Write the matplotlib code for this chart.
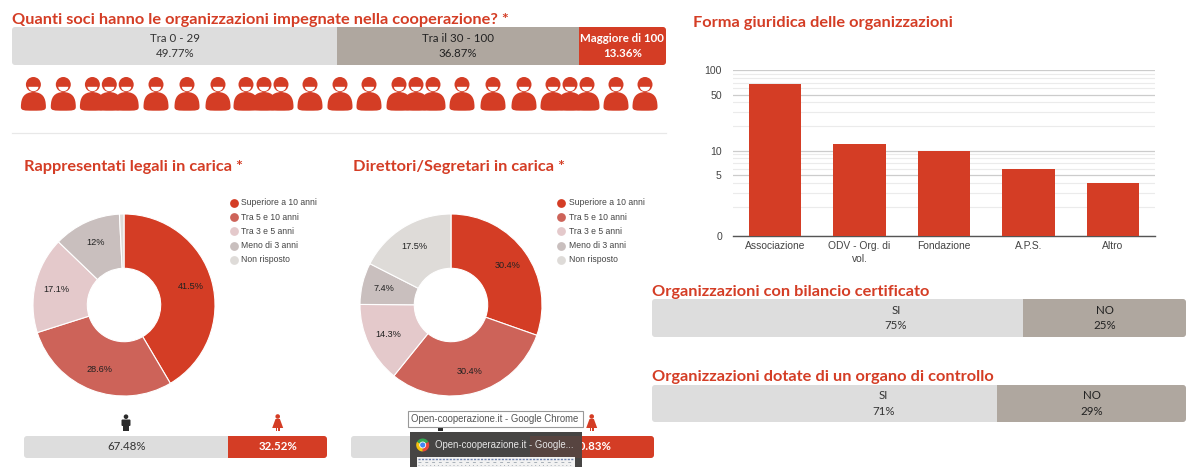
import numpy as np
import matplotlib
matplotlib.use('Agg')
import matplotlib.pyplot as plt
from matplotlib.patches import Rectangle, FancyBboxPatch, PathPatch, Polygon, Circle, Wedge
from matplotlib.path import Path
from matplotlib.transforms import Affine2D

W, H = 1200, 467

# data
soci_labels = ['Tra 0 - 29', 'Tra il 30 - 100', 'Maggiore di 100']
soci_values = [49.77, 36.87, 13.36]
bilancio_labels = ['SI', 'NO']
bilancio_values = [75, 25]
bilancio_drawn = [69.5, 30.5]  # segment widths in the picture differ from the printed percentages
controllo_labels = ['SI', 'NO']
controllo_values = [71, 29]
controllo_drawn = [64.6, 35.4]
legali_gender = [67.48, 32.52]
direttori_gender = [59.17, 40.83]
durata_labels = ['Superiore a 10 anni', 'Tra 5 e 10 anni', 'Tra 3 e 5 anni', 'Meno di 3 anni', 'Non risposto']
legali_values = [41.5, 28.6, 17.1, 12, 0.8]
direttori_values = [30.4, 30.4, 14.3, 7.4, 17.5]
forma_labels = ['Associazione', 'ODV - Org. di\nvol.', 'Fondazione', 'A.P.S.', 'Altro']
forma_values = [67, 12, 10, 6, 4]
forma_ticks = [0, 5, 10, 50, 100]
forma_minor = [2, 3, 4, 6, 7, 8, 9, 20, 30, 40, 60, 70, 80, 90]

RED = '#d43d25'
LIGHT = '#dddddd'
TAUPE = '#afa79f'
PIE_COLORS = [RED, '#cd6359', '#e4c9cb', '#c9bfbe', '#dedbd8']
TITLE = dict(family='Lato', weight='bold', color=RED, fontsize=11.8, va='center')
BAR_FONT = dict(family='Lato', ha='center', va='center', fontsize=8.3)
ARIAL = 'Liberation Sans'

fig = plt.figure(figsize=(W / 100, H / 100), dpi=100, facecolor='white')


def px_axes(x0, y0, x1, y1, **kw):
    # axes placed by pixel box, y measured from the top of the image
    return fig.add_axes([x0 / W, 1 - y1 / H, (x1 - x0) / W, (y1 - y0) / H], **kw)


def stacked_bar(x0, y0, x1, y1, values, colors, texts, text_colors, weights, text_x=None):
    ax = px_axes(x0, y0, x1, y1)
    ax.set_xlim(0, sum(values))
    ax.set_ylim(0, 1)
    ax.axis('off')
    # rounded corners for the whole bar
    box_tr = Affine2D().scale(1 / (x1 - x0), 1 / (y1 - y0)) + ax.transAxes
    clip = FancyBboxPatch((0, 0), x1 - x0, y1 - y0, boxstyle='round,pad=0,rounding_size=3', transform=box_tr)
    left = 0
    for i, (v, c, t, tc, w) in enumerate(zip(values, colors, texts, text_colors, weights)):
        bar = ax.barh(0.5, v, height=1, left=left, color=c, linewidth=0)[0]
        bar.set_clip_path(clip)
        tx = left + v / 2
        if text_x and text_x[i] is not None:
            tx = text_x[i]
        if t:
            ax.text(tx, 0.5, t, color=tc, weight=w, linespacing=1.45, clip_on=False, **BAR_FONT)
        left += v
    return ax


def donut(cx, cy, values):
    r = 91
    ax = px_axes(cx - r - 1, cy - r - 1, cx + r + 1, cy + r + 1)
    ax.pie(values, colors=PIE_COLORS, startangle=90, counterclock=False, radius=1,
           autopct=lambda p: '' if p < 1 else f'{round(p, 1):g}%', pctdistance=0.76,
           wedgeprops=dict(width=1 - 36.7 / 91, edgecolor='white', linewidth=0.8),
           textprops=dict(family=ARIAL, fontsize=6.6, color='#222222'))
    ax.set_xlim(-92 / 91, 92 / 91)
    ax.set_ylim(-92 / 91, 92 / 91)
    ax.set_aspect('equal')


# stacked bars
stacked_bar(12, 27, 666, 65, soci_values, [LIGHT, TAUPE, RED],
            [f'{l}\n{v:.2f}%' for l, v in zip(soci_labels, soci_values)],
            ['#333333', '#222222', 'white'], ['normal', 'normal', 'bold'])
stacked_bar(652, 299, 1186, 337, bilancio_drawn, [LIGHT, TAUPE],
            [f'{l}\n{v}%' for l, v in zip(bilancio_labels, bilancio_values)],
            ['#333333', '#222222'], ['normal', 'normal'], text_x=[45.7, None])
stacked_bar(652, 385, 1186, 422, controllo_drawn, [LIGHT, TAUPE],
            [f'{l}\n{v}%' for l, v in zip(controllo_labels, controllo_values)],
            ['#333333', '#222222'], ['normal', 'normal'], text_x=[43.4, None])
stacked_bar(24, 436, 327, 458, legali_gender, [LIGHT, RED],
            [f'{v:.2f}%' for v in legali_gender], ['#333333', 'white'], ['normal', 'bold'])
# the grey label of this bar sits fully behind the browser popup
stacked_bar(351, 436, 654, 458, direttori_gender, [LIGHT, RED],
            ['', f'{direttori_gender[1]:.2f}%'], ['#333333', 'white'], ['normal', 'bold'])

# donuts
donut(124, 305, legali_values)
donut(451, 305, direttori_values)

# log bar chart
ax = px_axes(733, 70.3, 1155, 235.7)
ax.set_yscale('symlog', linthresh=1, linscale=0.0515)
pos = np.arange(len(forma_values))
ax.bar(pos, forma_values, width=0.62, color=RED, zorder=3)
ax.set_xlim(-0.5, len(forma_values) - 0.5)
ax.set_ylim(0, 100)
ax.set_yticks(forma_ticks)
ax.set_yticklabels([str(t) for t in forma_ticks], family=ARIAL, fontsize=7.6, color='#444444')
ax.set_yticks(forma_minor, minor=True)
ax.set_yticklabels([], minor=True)
ax.set_xticks(pos)
ax.set_xticklabels(forma_labels, family=ARIAL, fontsize=7.4, color='#444444', linespacing=1.3)
ax.tick_params(axis='both', which='both', length=0)
ax.tick_params(axis='y', pad=8)
ax.tick_params(axis='x', pad=4)
ax.grid(True, axis='y', which='major', color='#cccccc', linewidth=0.9, zorder=0)
ax.grid(True, axis='y', which='minor', color='#ebebeb', linewidth=0.8, zorder=0)
ax.patch.set_alpha(0)
for name, sp in ax.spines.items():
    sp.set_visible(name == 'bottom')
ax.spines['bottom'].set_color('#555555')
ax.spines['bottom'].set_linewidth(1)

# overlay in image pixels for titles, icons and the browser popup
ov = fig.add_axes([0, 0, 1, 1], zorder=10)
ov.set_xlim(0, W)
ov.set_ylim(H, 0)
ov.axis('off')

ov.text(12, 20, 'Quanti soci hanno le organizzazioni impegnate nella cooperazione? *', **TITLE)
ov.text(693, 23.5, 'Forma giuridica delle organizzazioni', **TITLE)
ov.text(24, 167.5, 'Rappresentati legali in carica *', **TITLE)
ov.text(353, 167.5, 'Direttori/Segretari in carica *', **TITLE)
ov.text(652, 292, 'Organizzazioni con bilancio certificato', **TITLE)
ov.text(652, 376.5, 'Organizzazioni dotate di un organo di controllo', **TITLE)

ov.plot([12, 666], [133, 133], color='#e8e8e8', lw=0.9)

# legends
for x_dot, x_txt in [(233.5, 241), (560.7, 568.7)]:
    for i, lab in enumerate(durata_labels):
        y = 202.7 + i * 14.3
        ov.scatter([x_dot], [y], s=40, color=PIE_COLORS[i], linewidths=0)
        ov.text(x_txt, y, lab, family=ARIAL, fontsize=6.2, color='#444444', va='center')

# people icons
icon_x = [33.4, 63.3, 92.4, 109.3, 126.2, 156, 187, 218, 246, 264, 281, 310, 340, 369,
          399, 416, 433, 462, 493, 524, 553, 570, 587, 616, 645]


def person(c):
    ov.add_patch(Circle((c, 84.5), 7.5, color=RED, lw=0, zorder=3))
    verts = [(c - 12.5, 107), (c - 12.5, 97), (c - 9, 92.5), (c, 92), (c + 9, 92.5), (c + 12.5, 97), (c + 12.5, 107),
             (c + 12.5, 110.7), (c + 9, 110.7), (c, 110.7), (c - 9, 110.7), (c - 12.5, 110.7), (c - 12.5, 107)]
    codes = [Path.MOVETO] + [Path.CURVE4] * 12
    ov.add_patch(PathPatch(Path(verts, codes), color=RED, lw=0, zorder=3))
    t = np.linspace(0, np.pi, 20)
    ov.add_patch(Polygon(np.c_[c + 5 * np.cos(t), 86.8 + 4.4 * np.sin(t)], color='white', lw=0, zorder=4))


for c in icon_x:
    person(c)


def man(c, col):
    ov.add_patch(Circle((c, 416.7), 2.3, color=col, lw=0))
    ov.add_patch(FancyBboxPatch((c - 4.5, 419.5), 9, 6.5, boxstyle='round,pad=0,rounding_size=1', color=col, lw=0))
    ov.add_patch(Rectangle((c - 2.7, 425), 5.4, 6, color=col, lw=0))


def woman(c, col):
    ov.add_patch(Circle((c, 416.5), 2.3, color=col, lw=0))
    ov.add_patch(Polygon([(c - 2.2, 419), (c + 2.2, 419), (c + 5.5, 428), (c - 5.5, 428)], color=col, lw=0))
    ov.add_patch(Rectangle((c - 2.2, 428), 1.6, 3, color=col, lw=0))
    ov.add_patch(Rectangle((c + 0.6, 428), 1.6, 3, color=col, lw=0))


man(126, '#2b2b2b')
woman(277.7, RED)
man(440.7, '#2b2b2b')
woman(591.7, RED)

# browser popup over the second gender bar
ov.add_patch(Rectangle((410, 431.7), 171.7, 36, color='#464544', lw=0, zorder=6))
ov.add_patch(Rectangle((530, 436), 51.7, 22, color=RED, alpha=0.12, lw=0, zorder=6))
ov.add_patch(Rectangle((407.5, 410.7), 175.5, 16, facecolor='white', edgecolor='#999999', lw=0.8, zorder=7))
ov.text(411, 418.7, 'Open-cooperazione.it - Google Chrome', family=ARIAL, fontsize=6.9, color='#555555',
        va='center', zorder=8)
for a, b, col in [(-30, 90, '#e8483a'), (90, 210, '#f4c20d'), (210, 330, '#34a853')]:
    ov.add_patch(Wedge((422.7, 445), 6.5, a, b, color=col, lw=0, zorder=7))
ov.add_patch(Circle((422.7, 445), 3, facecolor='#4285f4', edgecolor='white', lw=0.6, zorder=8))
ov.text(435, 445, 'Open-cooperazione.it - Google...', family=ARIAL, fontsize=6.95, color='#e6e6e6',
        va='center', zorder=8)
ov.add_patch(Rectangle((416.7, 456.7), 158.3, 11, color='#f2f2f2', lw=0, zorder=7))
ov.plot([418, 573], [458.5, 458.5], color='#6f84b0', lw=1, ls=(0, (1.5, 1)), zorder=8)
ov.plot([418, 573], [461.5, 461.5], color='#a8b0b8', lw=0.7, ls=(0, (3, 4)), zorder=8)
ov.plot([418, 573], [465, 465], color='#a8b0b8', lw=0.7, ls=(0, (1, 3)), zorder=8)

fig.savefig('out.png', dpi=100, facecolor='white')
